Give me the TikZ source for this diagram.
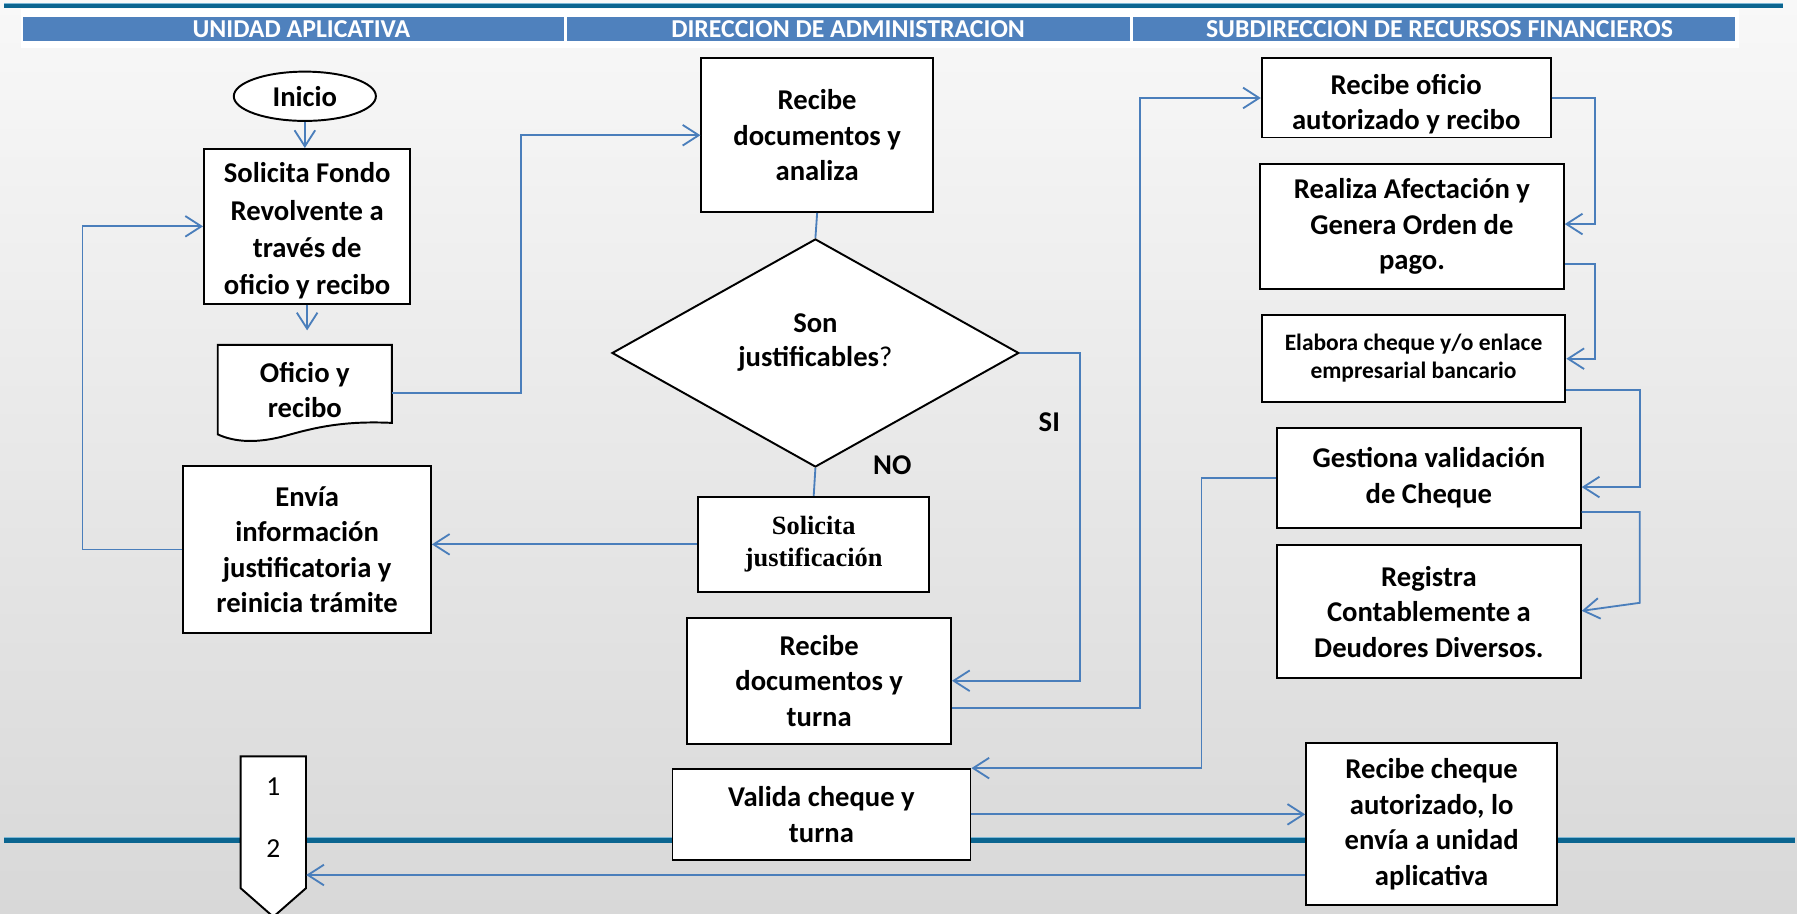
\documentclass[tikz,border=0pt]{standalone}
\usepackage{fontspec}
\setmainfont{Carlito}
\newfontfamily\timesf{Liberation Serif}
\usetikzlibrary{arrows.meta,shapes.geometric}
\definecolor{hdr}{HTML}{4F81BD}
\definecolor{conn}{HTML}{4A7EBB}
\definecolor{tealD}{HTML}{0B6590}
\definecolor{tealL}{HTML}{7DB8D6}
\definecolor{bgT}{HTML}{F8F8F8}
\definecolor{bgB}{HTML}{D8D8D8}
\begin{document}
\begin{tikzpicture}[x=1pt,y=-1pt,
  box/.style={draw=black, line width=1.7pt, fill=white, align=center, inner sep=0pt,
    font=\bfseries\fontsize{25pt}{31pt}\selectfont},
  cn/.style={draw=conn, line width=1.6pt},
  arr/.style={cn, -{Straight Barb[length=14pt,width=18pt]}},
  lbl/.style={font=\bfseries\fontsize{25pt}{30pt}\selectfont, inner sep=0pt, align=center},
  hdrtxt/.style={text=white, font=\bfseries\fontsize{22.5pt}{26pt}\selectfont, inner sep=0pt},
  ghost/.style={inner sep=0pt, draw=none, fill=none}]
\useasboundingbox (0,0) rectangle (1568,797);
\shade[top color=bgT, bottom color=bgB] (0,0) rectangle (1568,797);
% top and bottom rules
\fill[tealL] (3.5,2.5) rectangle (1556,3.7);
\fill[tealD] (3.5,3.7) rectangle (1556,7.4);
\fill[tealL] (3.5,730) rectangle (1566,731.3);
\fill[tealD] (3.5,731.3) rectangle (1566,735.5);
% header
\fill[white] (18,8) rectangle (1517,42);
\fill[hdr] (20,15) rectangle (492,36);
\fill[hdr] (495,15) rectangle (986,36);
\fill[hdr] (989,15) rectangle (1514,36);
\node[hdrtxt] (h1) at (263,25.5) {UNIDAD APLICATIVA};
\node[hdrtxt] (h2) at (740,25.5) {DIRECCION DE ADMINISTRACION};
\node[hdrtxt] (h3) at (1256,25.5) {SUBDIRECCION DE RECURSOS FINANCIEROS};
% column 1
\node[box, ellipse, minimum width=124pt, minimum height=43pt] (ini) at (266,84) {Inicio};
\node[box, minimum width=180pt, minimum height=135pt] (sol) at (268,197.5) {};
\node[lbl, font=\bfseries\fontsize{25pt}{32.5pt}\selectfont] (solt) at (268,201.5)
  {Solicita Fondo\\Revolvente a\\través de\\oficio y recibo};
\draw[fill=white, draw=black, line width=1.7pt] (190,301) -- (342,301) -- (342,369)
  .. controls (300,367) and (275,373) .. (250,380)
  .. controls (225,387) and (205,386) .. (190,379) -- cycle;
\node[ghost, align=center, minimum width=152pt, minimum height=80pt,
  font=\bfseries\fontsize{25pt}{31pt}\selectfont] (ofi) at (266,340.5) {Oficio y\\recibo};
\node[box, minimum width=216pt, minimum height=145pt] (env) at (268,479.5)
  {Envía\\información\\justificatoria y\\reinicia trámite};
\draw[fill=white, draw=black, line width=1.7pt] (210,660) -- (267,660) -- (267,775)
  -- (238.5,800) -- (210,775) -- cycle;
\node[ghost, minimum width=57pt, minimum height=115pt] (pg) at (238.5,717.5) {};
\node[inner sep=0pt, font=\fontsize{24pt}{28pt}\selectfont] (n1) at (238.5,686.5) {1};
\node[inner sep=0pt, font=\fontsize{24pt}{28pt}\selectfont] (n2) at (238.5,740) {2};
% column 2
\node[box, minimum width=202pt, minimum height=134pt] (rda) at (713,118)
  {Recibe\\documentos y\\analiza};
\node[draw=black, line width=1.7pt, fill=white, diamond, minimum width=355pt,
  minimum height=199pt, inner sep=0pt] (dia) at (711.5,308) {};
\node[lbl] (diat) at (711.5,299) {Son\\justificables{\mdseries ?}};
\node[box, minimum width=202pt, minimum height=83pt,
  font=\timesf\bfseries\fontsize{23pt}{28pt}\selectfont] (sj) at (710,475)
  {Solicita\\justificación};
\node[box, minimum width=230pt, minimum height=110pt] (rdt) at (714.8,594)
  {Recibe\\documentos y\\turna};
\node[box, minimum width=260pt, minimum height=79pt] (val) at (716.8,710.6)
  {Valida cheque y\\turna};
\node[lbl] (si) at (915.6,368) {SI};
\node[lbl] (no) at (778.6,405.8) {NO};
% column 3
\node[box, minimum width=252pt, minimum height=69pt] (rof) at (1227,85.5) {};
\node[lbl] (roft) at (1227,91) {Recibe oficio\\autorizado y recibo};
\node[box, minimum width=265pt, minimum height=109pt] (rea) at (1232,197.7)
  {Realiza Afectación y\\Genera Orden de\\pago.};
\node[box, minimum width=265pt, minimum height=76pt,
  font=\bfseries\fontsize{20.5pt}{24.5pt}\selectfont] (ela) at (1233.4,312.7)
  {Elabora cheque y/o enlace\\empresarial bancario};
\node[box, minimum width=265pt, minimum height=87pt] (ges) at (1246.8,416.8)
  {Gestiona validación\\de Cheque};
\node[box, minimum width=265pt, minimum height=116pt] (reg) at (1246.8,533.8)
  {Registra\\Contablemente a\\Deudores Diversos.};
\node[box, minimum width=219pt, minimum height=141pt] (rch) at (1249.2,719)
  {Recibe cheque\\autorizado, lo\\envía a unidad\\aplicativa};
% helper coordinates
\coordinate (yA) at (0,342.6);
\coordinate (yB) at (0,618);
\coordinate (yC) at (0,195.5);
\coordinate (yD) at (0,230);
\coordinate (yE) at (0,313);
\coordinate (yF) at (0,340.3);
\coordinate (yG) at (0,425);
\coordinate (yH) at (0,446.8);
\coordinate (yI) at (0,533);
\coordinate (yJ) at (0,763.5);
\coordinate (kSI) at (942.4,308);
\coordinate (kL) at (72,479.5);
% connectors
\draw[arr] (ini.south) -- (ini.south |- sol.north);
\draw[arr, shorten >=12pt] (sol.south) -- (sol.south |- ofi.north);
\draw[arr] (ofi.east |- yA) -- (454.3,342.6) |- (rda.west);
\draw[cn] (rda.south) -- (dia.north);
\draw[cn] (dia.south) -- (sj.north);
\draw[arr] (dia.east) -- (kSI) |- (rdt.east);
\draw[arr] (sj.west) -- (sj.west -| env.east);
\draw[arr] (env.west) -- (kL) |- (sol.west);
\draw[arr] (rdt.east |- yB) -- (994.9,618) |- (rof.west);
\draw[arr] (rof.east) -- (1391.5,85.5) |- (rea.east |- yC);
\draw[arr] (rea.east |- yD) -- (1391.5,230) |- (ela.east |- yE);
\draw[arr] (ela.east |- yF) -- (1430.8,340.3) |- (ges.east |- yG);
\draw[arr] (ges.east |- yH) -- (1430.8,446.8) -- (1430.8,526) -- (reg.east |- yI);
\draw[arr] (ges.west) -- (1048.3,416.8) |- (val.north east);
\draw[arr] (val.east) -- (val.east -| rch.west);
\draw[arr] (rch.west |- yJ) -- (pg.east |- yJ);
\end{tikzpicture}
\end{document}
